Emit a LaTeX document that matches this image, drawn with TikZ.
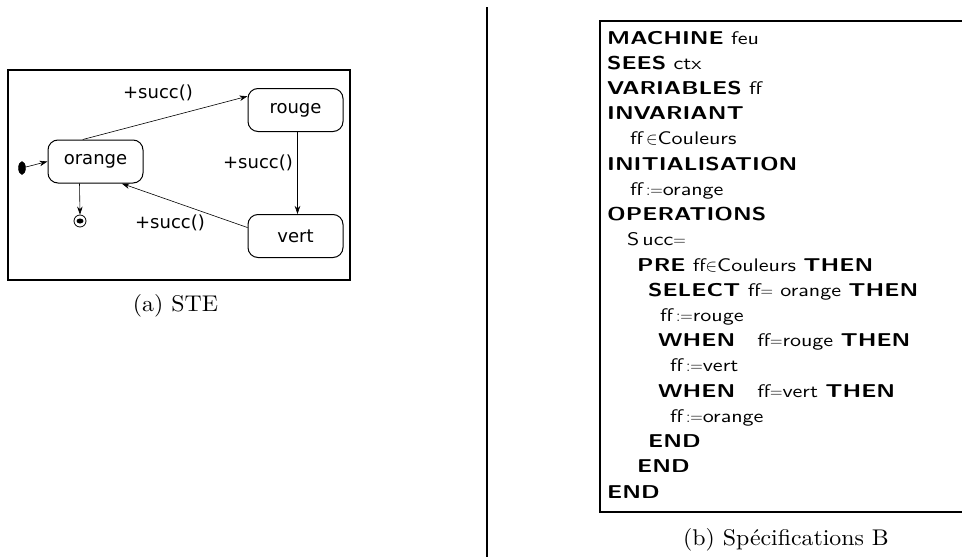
\documentclass[tikz,border=0pt]{standalone}
\usepackage{fontspec}
\newfontfamily\dejavu{DejaVu Sans}
\newfontfamily\codefont{lmsans10-regular}[Extension=.otf, FakeStretch=1.21]
\newfontfamily\codebf{lmsans10-bold}[Extension=.otf, Scale=1.02, FakeStretch=1.27]
\newfontfamily\capfont{lmroman10-regular}[Extension=.otf, FakeStretch=1.05]
\newcommand{\kw}[1]{{\codebf #1}}
\usetikzlibrary{arrows.meta,shapes.geometric}
\begin{document}
\begin{tikzpicture}[x=1pt,y=-1pt,
  state/.style={draw,line width=1pt,rounded corners=10pt,minimum width=95pt,minimum height=43pt,inner sep=0pt,font=\dejavu\fontsize{18}{20}\selectfont},
  lbl/.style={inner sep=0pt,font=\dejavu\fontsize{18}{20}\selectfont},
  trans/.style={line width=0.6pt,-{Stealth[length=8pt,width=5.5pt,inset=2.5pt]}},
  codeline/.style={anchor=base west,inner sep=0pt,font=\codefont\fontsize{18.2}{20}\selectfont},
  caption/.style={inner sep=0pt,font=\capfont\fontsize{22.7}{25}\selectfont}]
\useasboundingbox (0,0) rectangle (962,557);
% left panel
\draw[line width=1.2pt] (8,70) rectangle (350,280);
\node[state] (orange) at (95.5,161.5) {orange};
\node[state] (rouge) at (295.5,110) {rouge};
\node[state] (vert) at (295.5,236) {vert};
\node[draw,fill=black,ellipse,minimum width=7pt,minimum height=13pt,inner sep=0pt] (init) at (22,168) {};
\node[draw,circle,line width=0.8pt,minimum size=12pt,inner sep=0pt] (final) at (80,221) {};
\node[fill=black,ellipse,minimum width=7pt,minimum height=5pt,inner sep=0pt] (finalin) at (final.center) {};
\draw[trans] (init) -- (orange.west);
\draw[trans] (orange.-126) -- (final.north);
\draw[trans] (orange.120) -- (rouge.164);
\draw[trans] ([xshift=2pt]rouge.south) -- ([xshift=2pt]vert.north);
\draw[trans] (vert.170) -- (orange.-40);
\node[lbl] (t1) at (158,93) {+succ()};
\node[lbl] (t2) at (258,163) {+succ()};
\node[lbl] (t3) at (170,223) {+succ()};
\node[caption] (capa) at (175.5,306) {(a) STE};
% separator
\draw[line width=1.5pt] (487,7) -- (487,557);
% right panel
\draw[line width=1.5pt] (962,21) -- (600,21) -- (600,512) -- (962,512);
\node[codeline] (l1) at (607,44.0) {\kw{MACHINE} feu};
\node[codeline] (l2) at (607,69.2) {\kw{SEES} ctx};
\node[codeline] (l3) at (607,94.4) {\kw{VARIABLES} ff};
\node[codeline] (l4) at (607,119.7) {\kw{INVARIANT}};
\node[codeline] (l5) at (630,144.9) {ff\,$\in$Couleurs};
\node[codeline] (l6) at (607,170.1) {\kw{INITIALISATION}};
\node[codeline] (l7) at (630,195.3) {ff\,$:=$orange};
\node[codeline] (l8) at (607,220.5) {\kw{OPERATIONS}};
\node[codeline] (l9) at (627,245.8) {S\,ucc$=$};
\node[codeline] (l10) at (637,271.0) {\kw{PRE} ff$\in$Couleurs \kw{THEN}};
\node[codeline] (l11) at (648,296.2) {\kw{SELECT} ff$=$ orange \kw{THEN}};
\node[codeline] (l12) at (660,321.4) {ff\,$:=$rouge};
\node[codeline] (l13) at (658,346.6) {\kw{WHEN}\hspace{22pt}ff$=$rouge \kw{THEN}};
\node[codeline] (l14) at (670,371.9) {ff\,$:=$vert};
\node[codeline] (l15) at (658,397.1) {\kw{WHEN}\hspace{22pt}ff$=$vert \kw{THEN}};
\node[codeline] (l16) at (670,422.3) {ff\,$:=$orange};
\node[codeline] (l17) at (648,447.5) {\kw{END}};
\node[codeline] (l18) at (637,472.7) {\kw{END}};
\node[codeline] (l19) at (607,498.0) {\kw{END}};
\node[caption] (capb) at (786,540) {(b) Spécifications B};
\end{tikzpicture}
\end{document}
